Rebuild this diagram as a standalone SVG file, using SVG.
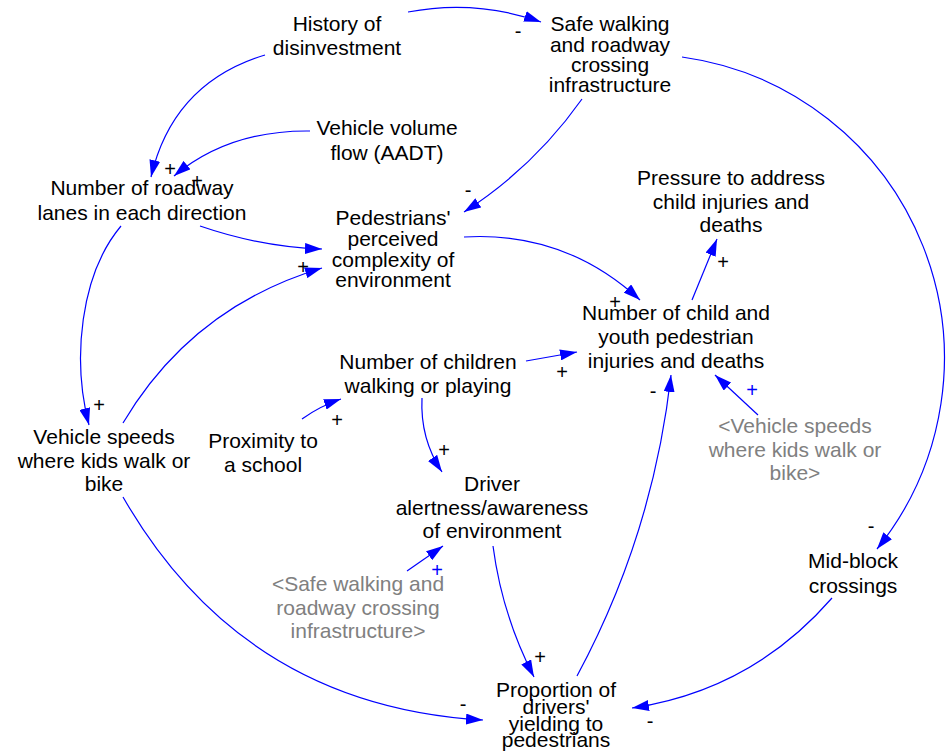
<svg xmlns="http://www.w3.org/2000/svg" width="947" height="751" viewBox="0 0 947 751">
<defs>
<style>
.n{font-family:"Liberation Sans",Arial,sans-serif;font-size:21px;fill:#000;text-anchor:middle}
.g{font-family:"Liberation Sans",Arial,sans-serif;font-size:21px;fill:#808080;text-anchor:middle}
.p{font-family:"Liberation Sans",Arial,sans-serif;font-size:20px;fill:#000;text-anchor:middle}
.pb{font-family:"Liberation Sans",Arial,sans-serif;font-size:20px;fill:#0000ff;text-anchor:middle}
.c{fill:none;stroke:#0000ff;stroke-width:1.2;marker-end:url(#ah)}
</style>
<marker id="ah" markerUnits="userSpaceOnUse" markerWidth="17" markerHeight="11" refX="17" refY="5.5" orient="auto">
<path d="M0,0 L17,5.5 L0,11 z" fill="#0000ff"/>
</marker>
</defs>
<rect width="947" height="751" fill="#fff"/>
<g id="connectors">
<path class="c" d="M408,12 Q475,-1 541,22"/>
<path class="c" d="M265,55 Q173,83 151,177"/>
<path class="c" d="M310,131 Q229,130 174,176"/>
<path class="c" d="M582,99 Q534,167 464,212"/>
<path class="c" d="M682,57 A304,304 0 0,1 877,549"/>
<path class="c" d="M200,226 Q261,247 322,249"/>
<path class="c" d="M121,226 C80,275 72,360 89,425"/>
<path class="c" d="M123,423 Q192,307 322,268"/>
<path class="c" d="M464,237 Q565,231 640,300"/>
<path class="c" d="M692,300 L717,239"/>
<path class="c" d="M526,361 L577,352"/>
<path class="c" d="M302,419 Q320,406 341,399"/>
<path class="c" d="M422,398 Q420,439 442,472"/>
<path class="c" d="M758,415 L715,375"/>
<path class="c" d="M407,571 L443,546"/>
<path class="c" d="M493,546 Q502,615 534,677"/>
<path class="c" d="M577,676 Q653,535 671,375"/>
<path class="c" d="M123,497 Q243,706 483,720"/>
<path class="c" d="M832,598 Q752,690 632,708"/>
</g>
<g id="polarities">
<text class="p" x="518" y="38">-</text>
<text class="p" x="170" y="176">+</text>
<text class="p" x="197" y="188">+</text>
<text class="p" x="468" y="197">-</text>
<text class="p" x="871" y="533">-</text>
<text class="p" x="99" y="412">+</text>
<text class="p" x="303" y="274">+</text>
<text class="p" x="615" y="309">+</text>
<text class="p" x="723" y="269">+</text>
<text class="p" x="562" y="379">+</text>
<text class="p" x="337" y="427">+</text>
<text class="p" x="444" y="457">+</text>
<text class="pb" x="752" y="397">+</text>
<text class="pb" x="437" y="577">+</text>
<text class="p" x="540" y="664">+</text>
<text class="p" x="653" y="398">-</text>
<text class="p" x="463" y="711">-</text>
<text class="p" x="650" y="728">-</text>
</g>
<g id="history"><text class="n"><tspan x="337" y="31">History of</tspan><tspan x="337" y="55">disinvestment</tspan></text></g>
<g id="safe"><text class="n"><tspan x="610" y="31">Safe walking</tspan><tspan x="610" y="51.5">and roadway</tspan><tspan x="610" y="72">crossing</tspan><tspan x="610" y="92">infrastructure</tspan></text></g>
<g id="volume"><text class="n"><tspan x="387" y="135">Vehicle volume</tspan><tspan x="387" y="160">flow (AADT)</tspan></text></g>
<g id="lanes"><text class="n"><tspan x="142" y="195">Number of roadway</tspan><tspan x="142" y="220">lanes in each direction</tspan></text></g>
<g id="peds"><text class="n"><tspan x="393" y="225">Pedestrians'</tspan><tspan x="393" y="246">perceived</tspan><tspan x="393" y="266.5">complexity of</tspan><tspan x="393" y="287">environment</tspan></text></g>
<g id="pressure"><text class="n"><tspan x="731" y="185">Pressure to address</tspan><tspan x="731" y="208.5">child injuries and</tspan><tspan x="731" y="232">deaths</tspan></text></g>
<g id="injuries"><text class="n"><tspan x="676" y="320">Number of child and</tspan><tspan x="676" y="344">youth pedestrian</tspan><tspan x="676" y="368">injuries and deaths</tspan></text></g>
<g id="children"><text class="n"><tspan x="428" y="369">Number of children</tspan><tspan x="428" y="393">walking or playing</tspan></text></g>
<g id="speeds"><text class="n"><tspan x="104" y="444">Vehicle speeds</tspan><tspan x="104" y="467.5">where kids walk or</tspan><tspan x="104" y="491">bike</tspan></text></g>
<g id="proximity"><text class="n"><tspan x="263" y="448">Proximity to</tspan><tspan x="263" y="472">a school</tspan></text></g>
<g id="driver"><text class="n"><tspan x="492" y="491">Driver</tspan><tspan x="492" y="515">alertness/awareness</tspan><tspan x="492" y="538">of environment</tspan></text></g>
<g id="shadow-speeds"><text class="g"><tspan x="795" y="433">&lt;Vehicle speeds</tspan><tspan x="795" y="457">where kids walk or</tspan><tspan x="795" y="480">bike&gt;</tspan></text></g>
<g id="midblock"><text class="n"><tspan x="853" y="568">Mid-block</tspan><tspan x="853" y="593">crossings</tspan></text></g>
<g id="shadow-safe"><text class="g"><tspan x="358" y="591">&lt;Safe walking and</tspan><tspan x="358" y="615">roadway crossing</tspan><tspan x="358" y="638">infrastructure&gt;</tspan></text></g>
<g id="proportion"><text class="n"><tspan x="556" y="697">Proportion of</tspan><tspan x="556" y="714">drivers'</tspan><tspan x="556" y="731">yielding to</tspan><tspan x="556" y="747">pedestrians</tspan></text></g>
</svg>
